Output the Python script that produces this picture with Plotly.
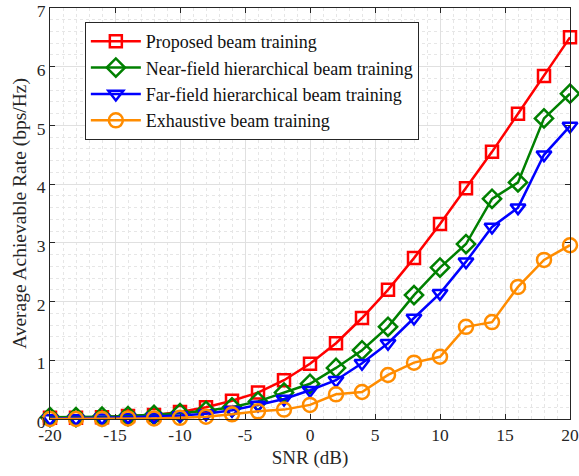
import plotly.graph_objects as go

snr = [-20, -18, -16, -14, -12, -10, -8, -6, -4, -2, 0, 2, 4, 6, 8, 10, 12, 14, 16, 18, 20]
proposed = [0.02, 0.02, 0.03, 0.05, 0.07, 0.12, 0.2, 0.31, 0.45, 0.66, 0.94, 1.29, 1.72, 2.2, 2.74, 3.32, 3.93, 4.55, 5.2, 5.84, 6.5]
near_field = [0.03, 0.03, 0.04, 0.05, 0.07, 0.1, 0.14, 0.2, 0.3, 0.45, 0.6, 0.87, 1.17, 1.57, 2.11, 2.58, 2.98, 3.75, 4.03, 5.12, 5.54]
far_field = [0.01, 0.01, 0.02, 0.03, 0.04, 0.06, 0.09, 0.15, 0.24, 0.34, 0.49, 0.66, 0.95, 1.29, 1.72, 2.14, 2.68, 3.27, 3.6, 4.5, 4.99]
exhaustive = [0.0, 0.0, 0.0, 0.01, 0.01, 0.02, 0.04, 0.08, 0.13, 0.16, 0.24, 0.42, 0.46, 0.75, 0.96, 1.06, 1.57, 1.65, 2.25, 2.71, 2.96]

x_ticks = [-20, -15, -10, -5, 0, 5, 10, 15, 20]
x_ticktext = ["-20", "-15", "-10", "-5", "0", "5", "10", "15", "20"]
y_ticks = [0, 1, 2, 3, 4, 5, 6, 7]
y_ticktext = ["0", "1", "2", "3", "4", "5", "6", "7"]

names = ["Proposed beam training", "Near-field hierarchical beam training",
         "Far-field hierarchical beam training", "Exhaustive beam training"]
series = [proposed, near_field, far_field, exhaustive]
colors = ["#FF0000", "#008000", "#0000FF", "#FF8C00"]
symbols = ["square-open", "diamond-open", "triangle-down-open", "circle-open"]
sizes = [12, 14, 13, 14]

FONT = "Liberation Serif"
TXT = "#262626"

fig = go.Figure()
for name, y, c, s, sz in zip(names, series, colors, symbols, sizes):
    fig.add_trace(go.Scatter(
        x=snr, y=y, name=name, mode="lines+markers",
        line=dict(color=c, width=2.5),
        marker=dict(symbol=s, size=sz, color=c, line=dict(width=2.5, color=c)),
        cliponaxis=False,
    ))

axis_common = dict(
    showline=True, linecolor=TXT, linewidth=1, mirror="ticks",
    ticks="inside", ticklen=5, tickcolor=TXT,
    showgrid=True, gridcolor="#E0E0E0", gridwidth=1,
    zeroline=False, ticklabeloverflow="allow", automargin=False,
    tickfont=dict(family=FONT, size=17.5, color=TXT),
)

fig.update_xaxes(
    range=[-20, 20], tickmode="array", tickvals=x_ticks, ticktext=x_ticktext,
    title=dict(text="SNR (dB)", font=dict(family=FONT, size=19, color=TXT), standoff=6),
    minor=dict(dtick=1, tick0=-20, showgrid=True, gridcolor="#E6E6E6", griddash="dot", gridwidth=1, ticks=""),
    **axis_common,
)
fig.update_yaxes(
    range=[0, 7], tickmode="array", tickvals=y_ticks, ticktext=y_ticktext,
    ticklabelshift=3,
    title=dict(text="Average Achievable Rate (bps/Hz)", font=dict(family=FONT, size=19.5, color=TXT), standoff=4),
    minor=dict(dtick=0.2, tick0=0, showgrid=True, gridcolor="#E6E6E6", griddash="dot", gridwidth=1, ticks=""),
    **axis_common,
)

fig.update_layout(
    width=579, height=476,
    margin=dict(l=50, r=9, t=8, b=57, autoexpand=False),
    plot_bgcolor="white", paper_bgcolor="white",
    font=dict(family=FONT, size=18, color=TXT),
    legend=dict(
        x=0.067, y=0.966, xanchor="left", yanchor="top",
        bgcolor="white", bordercolor=TXT, borderwidth=1,
        font=dict(family=FONT, size=18, color="#111111"),
        tracegroupgap=0, itemwidth=50,
    ),
    showlegend=True,
)

fig.write_html("out.html")
